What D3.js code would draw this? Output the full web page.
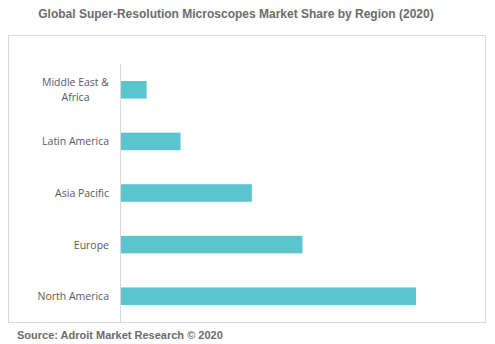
<!DOCTYPE html>
<html>
<head>
<meta charset="utf-8">
<script src="https://cdn.jsdelivr.net/npm/d3@7"></script>
<style>
  html, body { margin: 0; padding: 0; background: #fff; }
  svg { display: block; }
</style>
</head>
<body>
<script>
const regions = ["Middle East & Africa", "Latin America", "Asia Pacific", "Europe", "North America"];
const shares = [3.7, 8.6, 18.9, 26.2, 42.6];
const titleText = "Global Super-Resolution Microscopes Market Share by Region (2020)";
const sourceText = "Source: Adroit Market Research \u00A9 2020";

const W = 495, H = 344;
const svg = d3.select("body").append("svg").attr("width", W).attr("height", H);

svg.append("rect").attr("x", 8.5).attr("y", 35.5).attr("width", 477).attr("height", 287)
  .attr("fill", "#fff").attr("stroke", "#d9d9d9").attr("stroke-width", 1);

svg.append("text").attr("x", 236).attr("y", 18).attr("text-anchor", "middle")
  .attr("font-family", "Liberation Sans, Arial, sans-serif").attr("font-weight", "bold")
  .attr("font-size", 12).attr("fill", "#6b6b6b").text(titleText);

svg.append("text").attr("x", 17).attr("y", 339)
  .attr("font-family", "Liberation Sans, Arial, sans-serif").attr("font-weight", "bold")
  .attr("font-size", 11).attr("fill", "#6b6b6b").text(sourceText);

const y = d3.scaleBand().domain(regions).range([64, 322]).paddingInner(0.66).paddingOuter(0.33);
const x = d3.scaleLinear().domain([0, 50]).range([121, 467.2]);

svg.append("g").selectAll("rect").data(regions).join("rect")
  .attr("x", x(0)).attr("y", d => y(d))
  .attr("width", (d, i) => x(shares[i]) - x(0)).attr("height", y.bandwidth())
  .attr("fill", "#5bc5cf");

svg.append("line").attr("x1", 120.5).attr("x2", 120.5).attr("y1", 64).attr("y2", 322)
  .attr("stroke", "#d9d9d9").attr("stroke-width", 1);

const labelFont = "Open Sans, Liberation Sans, sans-serif";
const lg = svg.append("g").attr("font-family", labelFont).attr("font-size", 10.5).attr("fill", "#595959");
regions.forEach(r => {
  const cy = y(r) + y.bandwidth() / 2;
  if (r === "Middle East & Africa") {
    const lines = ["Middle East &", "Africa"];
    const t = lg.append("text").attr("text-anchor", "middle");
    const tmp = lg.append("text").text(lines[0]);
    const w = tmp.node().getComputedTextLength();
    tmp.remove();
    const cx = 109 - w / 2;
    lines.forEach((l, k) => {
      t.append("tspan").attr("x", cx).attr("y", cy + (k - 0.5) * 15 + 4).text(l);
    });
  } else {
    lg.append("text").attr("x", 109).attr("y", cy + 4).attr("text-anchor", "end").text(r);
  }
});
</script>
</body>
</html>
